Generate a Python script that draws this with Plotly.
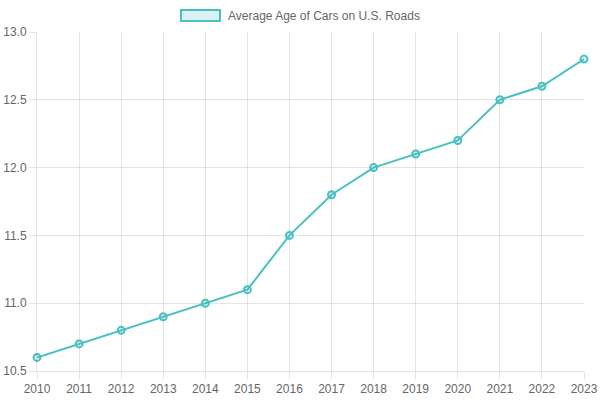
import plotly.graph_objects as go

years = [2010, 2011, 2012, 2013, 2014, 2015, 2016, 2017, 2018, 2019, 2020, 2021, 2022, 2023]
avg_age = [10.6, 10.7, 10.8, 10.9, 11.0, 11.1, 11.5, 11.8, 12.0, 12.1, 12.2, 12.5, 12.6, 12.8]
series_name = "Average Age of Cars on U.S. Roads"
y_ticks = [10.5, 11.0, 11.5, 12.0, 12.5, 13.0]

teal = "rgb(75,192,192)"
teal_fill = "rgba(75,192,192,0.2)"
grid = "rgba(0,0,0,0.1)"
font = dict(family="Liberation Sans, Arial, sans-serif", size=12, color="#666")

fig = go.Figure()
fig.add_trace(go.Scatter(
    x=years, y=avg_age, mode="lines+markers", name=series_name,
    line=dict(color=teal, width=2),
    marker=dict(size=7, color=teal_fill, line=dict(color=teal, width=2)),
    cliponaxis=False, showlegend=False,
))

# legend drawn manually (Chart.js style box)
fig.add_shape(type="rect", xref="paper", yref="paper",
              x0=(181 - 37) / 547, x1=(220 - 37) / 547,
              y0=1 + (32 - 21) / 339, y1=1 + (32 - 10) / 339,
              line=dict(color=teal, width=2), fillcolor=teal_fill)
fig.add_annotation(text=series_name, xref="paper", yref="paper",
                   x=(226 - 37) / 547, y=1 + (32 - 16) / 339,
                   xanchor="left", yanchor="middle", showarrow=False, font=font)

fig.update_layout(
    width=600, height=400,
    margin=dict(l=37, r=16, t=32, b=29),
    paper_bgcolor="white", plot_bgcolor="white",
    font=font,
    xaxis=dict(range=[2010, 2023], tickmode="array", tickvals=years,
               ticktext=[str(y) for y in years], automargin=False,
               showgrid=True, gridcolor=grid, gridwidth=1,
               showline=True, linecolor=grid, linewidth=1,
               ticks="outside", ticklen=7, tickcolor=grid, tickwidth=1,
               zeroline=False, fixedrange=True),
    yaxis=dict(range=[10.5, 13.0], tickmode="array", tickvals=y_ticks,
               ticktext=[f"{v:.1f}" for v in y_ticks], automargin=False,
               showgrid=True, gridcolor=grid, gridwidth=1,
               showline=True, linecolor=grid, linewidth=1,
               ticks="outside", ticklen=7, tickcolor=grid, tickwidth=1,
               zeroline=False, fixedrange=True),
)

fig.write_html("out.html")
